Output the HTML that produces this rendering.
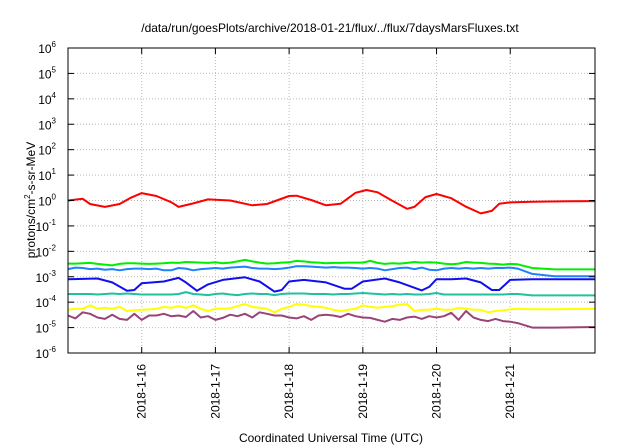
<!DOCTYPE html>
<html><head><meta charset="utf-8"><style>
body{margin:0;background:#fff}
svg{display:block;font-family:"Liberation Sans",sans-serif}
</style></head><body>
<svg id="c" width="640" height="448">
<text x="330" y="32" text-anchor="middle" font-size="12">/data/run/goesPlots/archive/2018-01-21/flux/../flux/7daysMarsFluxes.txt</text>
<text x="331" y="442" text-anchor="middle" font-size="12">Coordinated Universal Time (UTC)</text>
<text transform="translate(35,200) rotate(-90)" text-anchor="middle" font-size="12">protons/cm<tspan font-size="8" dy="-5">2</tspan><tspan dy="5">-s-sr-MeV</tspan></text>
<g id="grid"></g><g id="series"></g><g id="axes"></g>
</svg>
<script>
const xTickDays=[16,17,18,19,20,21];
const xTickLabels=["2018-1-16","2018-1-17","2018-1-18","2018-1-19","2018-1-20","2018-1-21"];
const yExps=[-6,-5,-4,-3,-2,-1,0,1,2,3,4,5,6];
const redDays=[15.0,15.2,15.3,15.5,15.7,15.85,16.0,16.2,16.4,16.5,16.7,16.9,17.2,17.5,17.7,18.0,18.1,18.3,18.5,18.7,18.9,19.05,19.2,19.4,19.6,19.7,19.85,20.0,20.2,20.4,20.6,20.75,20.85,21.0,21.3,21.8,22.15];
const redVals=[1.0,1.17,0.73,0.56,0.73,1.28,1.95,1.51,0.86,0.56,0.77,1.1,1.0,0.65,0.73,1.5,1.55,1.05,0.65,0.75,2.0,2.6,2.1,0.97,0.47,0.56,1.36,1.8,1.23,0.57,0.31,0.39,0.74,0.84,0.9,0.93,0.95];
const blueDays=[15.0,15.4,15.6,15.8,15.9,16.0,16.3,16.5,16.6,16.75,16.9,17.1,17.4,17.6,17.8,17.9,18.0,18.2,18.5,18.75,18.85,19.0,19.3,19.5,19.8,19.9,20.0,20.2,20.4,20.6,20.75,20.85,21.0,21.3,22.15];
const blueVals=[8e-4,8.5e-4,6e-4,2.8e-4,3e-4,5.5e-4,6.5e-4,9e-4,6e-4,2.8e-4,5e-4,7.5e-4,9.5e-4,6.5e-4,2.6e-4,3e-4,6.5e-4,7.5e-4,6e-4,3.4e-4,3.4e-4,6.5e-4,8.5e-4,6e-4,2.9e-4,4e-4,8e-4,8e-4,8.5e-4,6e-4,3e-4,3e-4,7.5e-4,8e-4,8e-4];
// noisy series sampled every 0.1 day from 15.0 to 21.1, then tail points
const noisyDays=[15.0,15.1,15.2,15.3,15.4,15.5,15.6,15.7,15.8,15.9,16.0,16.1,16.2,16.3,16.4,16.5,16.6,16.7,16.8,16.9,17.0,17.1,17.2,17.3,17.4,17.5,17.6,17.7,17.8,17.9,18.0,18.1,18.2,18.3,18.4,18.5,18.6,18.7,18.8,18.9,19.0,19.1,19.2,19.3,19.4,19.5,19.6,19.7,19.8,19.9,20.0,20.1,20.2,20.3,20.4,20.5,20.6,20.7,20.8,20.9,21.0,21.1,21.3,21.6,22.15];
const greenVals=[3.3e-3,3.3e-3,3.4e-3,3.5e-3,3.2e-3,3.0e-3,2.8e-3,3.2e-3,3.4e-3,3.4e-3,3.3e-3,3.2e-3,3.3e-3,3.4e-3,3.6e-3,3.5e-3,3.8e-3,3.7e-3,3.6e-3,3.5e-3,3.7e-3,3.4e-3,3.6e-3,4.0e-3,4.6e-3,4.0e-3,3.6e-3,3.3e-3,3.4e-3,3.6e-3,3.7e-3,4.2e-3,4.0e-3,3.7e-3,3.6e-3,3.4e-3,3.5e-3,3.5e-3,3.6e-3,3.6e-3,3.6e-3,4.2e-3,3.5e-3,3.2e-3,3.4e-3,3.3e-3,3.5e-3,3.8e-3,3.6e-3,3.7e-3,3.6e-3,3.3e-3,3.1e-3,3.3e-3,3.8e-3,3.6e-3,3.5e-3,3.3e-3,3.2e-3,3.0e-3,3.2e-3,3.1e-3,2.2e-3,1.95e-3,1.95e-3];
const lblueVals=[2.0e-3,2.3e-3,2.2e-3,2.0e-3,2.1e-3,1.9e-3,2.0e-3,1.8e-3,2.0e-3,2.1e-3,2.1e-3,2.0e-3,2.1e-3,1.8e-3,1.8e-3,2.2e-3,2.1e-3,1.8e-3,2.0e-3,2.1e-3,2.2e-3,2.1e-3,2.3e-3,2.4e-3,2.5e-3,2.2e-3,2.1e-3,2.1e-3,2.0e-3,2.1e-3,2.3e-3,2.6e-3,2.6e-3,2.5e-3,2.4e-3,2.3e-3,2.4e-3,2.3e-3,2.3e-3,2.2e-3,2.1e-3,2.2e-3,2.1e-3,1.8e-3,2.0e-3,2.2e-3,2.3e-3,2.0e-3,2.3e-3,1.9e-3,1.8e-3,2.1e-3,2.2e-3,2.1e-3,2.2e-3,2.1e-3,2.2e-3,2.1e-3,2.2e-3,2.2e-3,2.3e-3,2.1e-3,1.3e-3,1.05e-3,1.05e-3];
const tealVals=[2.1e-4,2.1e-4,2.1e-4,2.1e-4,2.0e-4,2.1e-4,2.2e-4,2.1e-4,2.2e-4,2.1e-4,2.0e-4,2.0e-4,2.0e-4,2.0e-4,2.0e-4,2.1e-4,2.5e-4,2.1e-4,2.0e-4,1.9e-4,2.1e-4,2.2e-4,2.0e-4,1.9e-4,2.1e-4,2.2e-4,2.1e-4,2.1e-4,1.9e-4,2.1e-4,2.2e-4,2.2e-4,2.2e-4,2.1e-4,2.1e-4,2.1e-4,2.0e-4,2.1e-4,2.1e-4,2.2e-4,2.3e-4,2.2e-4,2.1e-4,2.0e-4,2.1e-4,2.0e-4,2.1e-4,2.0e-4,2.0e-4,2.1e-4,2.3e-4,2.0e-4,2.0e-4,2.0e-4,2.0e-4,2.0e-4,2.0e-4,2.0e-4,2.0e-4,2.0e-4,2.1e-4,2.1e-4,1.85e-4,1.85e-4,1.85e-4];
const yellowVals=[5.0e-5,5.5e-5,5.5e-5,7.5e-5,5.5e-5,6.0e-5,5.5e-5,6.5e-5,4.5e-5,4.8e-5,5.0e-5,5.2e-5,5.5e-5,6.5e-5,6.0e-5,7.0e-5,6.0e-5,7.5e-5,5.5e-5,4.5e-5,5.5e-5,5.5e-5,5.8e-5,7.0e-5,8.5e-5,6.5e-5,6.0e-5,5.5e-5,4.0e-5,5.5e-5,6.5e-5,8.5e-5,8.0e-5,7.0e-5,6.5e-5,6.0e-5,5.0e-5,4.5e-5,5.0e-5,5.5e-5,7.5e-5,6.5e-5,6.0e-5,6.5e-5,7.0e-5,8.0e-5,8.5e-5,4.5e-5,5.0e-5,5.0e-5,5.5e-5,5.0e-5,5.0e-5,6.0e-5,5.5e-5,5.0e-5,5.0e-5,4.0e-5,4.5e-5,4.8e-5,5.2e-5,5.5e-5,5.3e-5,5.3e-5,5.5e-5];
const purpleVals=[3.0e-5,2.3e-5,4.0e-5,3.5e-5,2.5e-5,2.2e-5,3.2e-5,2.2e-5,2.0e-5,3.5e-5,2.0e-5,3.0e-5,3.0e-5,3.5e-5,2.8e-5,3.0e-5,2.6e-5,4.5e-5,2.5e-5,2.8e-5,2.0e-5,2.4e-5,3.2e-5,2.8e-5,3.5e-5,2.5e-5,4.0e-5,3.5e-5,3.0e-5,3.0e-5,2.5e-5,2.3e-5,2.8e-5,2.0e-5,3.0e-5,3.2e-5,3.0e-5,2.6e-5,3.5e-5,2.8e-5,2.5e-5,2.4e-5,2.0e-5,1.7e-5,2.2e-5,2.0e-5,2.5e-5,2.7e-5,2.2e-5,2.8e-5,2.5e-5,2.8e-5,3.8e-5,2.0e-5,4.5e-5,2.5e-5,2.0e-5,1.8e-5,2.2e-5,1.8e-5,1.7e-5,1.5e-5,1.0e-5,1.0e-5,1.05e-5];
const L=68,R=595,T=48,B=353,D0=15,D1=22.15;
const xs=d=>L+(d-D0)/(D1-D0)*(R-L);
const ys=v=>B-(Math.log10(v)+6)/12*(B-T);
const NS="http://www.w3.org/2000/svg";
function mk(tag,parent){const e=document.createElementNS(NS,tag);document.getElementById(parent).appendChild(e);return e;}
yExps.forEach(e=>{const y=B-(e+6)/12*(B-T);
 if(e>-6&&e<6){const g=mk('line','grid');g.setAttribute('x1',L);g.setAttribute('x2',R);g.setAttribute('y1',y);g.setAttribute('y2',y);g.setAttribute('stroke','#bbb');g.setAttribute('stroke-dasharray','1,2');
 
 }
 const t1=mk('line','axes');t1.setAttribute('x1',L);t1.setAttribute('x2',L+6);t1.setAttribute('y1',y);t1.setAttribute('y2',y);t1.setAttribute('stroke','#000');
 
 
 const t2=mk('line','axes');t2.setAttribute('x1',R-6);t2.setAttribute('x2',R);t2.setAttribute('y1',y);t2.setAttribute('y2',y);t2.setAttribute('stroke','#000');
 
 
 const tx=mk('text','axes');tx.setAttribute('x',56);tx.setAttribute('y',y+5);tx.setAttribute('text-anchor','end');tx.setAttribute('font-size','12');
 tx.innerHTML='10<tspan font-size="8" dy="-6">'+e+'</tspan>';
 
 
});
xTickDays.forEach((d,i)=>{const x=xs(d);
 const g=mk('line','grid');g.setAttribute('x1',x);g.setAttribute('x2',x);g.setAttribute('y1',T);g.setAttribute('y2',B);g.setAttribute('stroke','#bbb');g.setAttribute('stroke-dasharray','1,2');
 
 
 [[B-6,B],[T,T+6]].forEach(p=>{const t=mk('line','axes');t.setAttribute('x1',x);t.setAttribute('x2',x);t.setAttribute('y1',p[0]);t.setAttribute('y2',p[1]);t.setAttribute('stroke','#000');
 
 });
 const tx=mk('text','axes');tx.setAttribute('transform','translate('+(x+4)+',364) rotate(-90)');tx.setAttribute('text-anchor','end');tx.setAttribute('font-size','12');tx.textContent=xTickLabels[i];
 
 
});
const fr=mk('rect','axes');fr.setAttribute('x',L);fr.setAttribute('y',T);fr.setAttribute('width',R-L);fr.setAttribute('height',B-T);fr.setAttribute('fill','none');fr.setAttribute('stroke','#000');


function line(days,vals,color,name){const p=mk('polyline','series');
 p.setAttribute('points',days.map((d,i)=>xs(d).toFixed(1)+','+ys(vals[i]).toFixed(1)).join(' '));
 p.setAttribute('fill','none');p.setAttribute('stroke',color);p.setAttribute('stroke-width','2');p.setAttribute('stroke-linejoin','round');
 
 }
line(noisyDays,purpleVals,'#994477','series-purple');
line(noisyDays,yellowVals,'#ffff00','series-yellow');
line(noisyDays,tealVals,'#20c0a0','series-teal');
line(blueDays,blueVals,'#1010ee','series-blue');
line(noisyDays,lblueVals,'#2080ff','series-light-blue');
line(noisyDays,greenVals,'#00ee00','series-green');
line(redDays,redVals,'#ff0000','series-red');
</script>
</body></html>
